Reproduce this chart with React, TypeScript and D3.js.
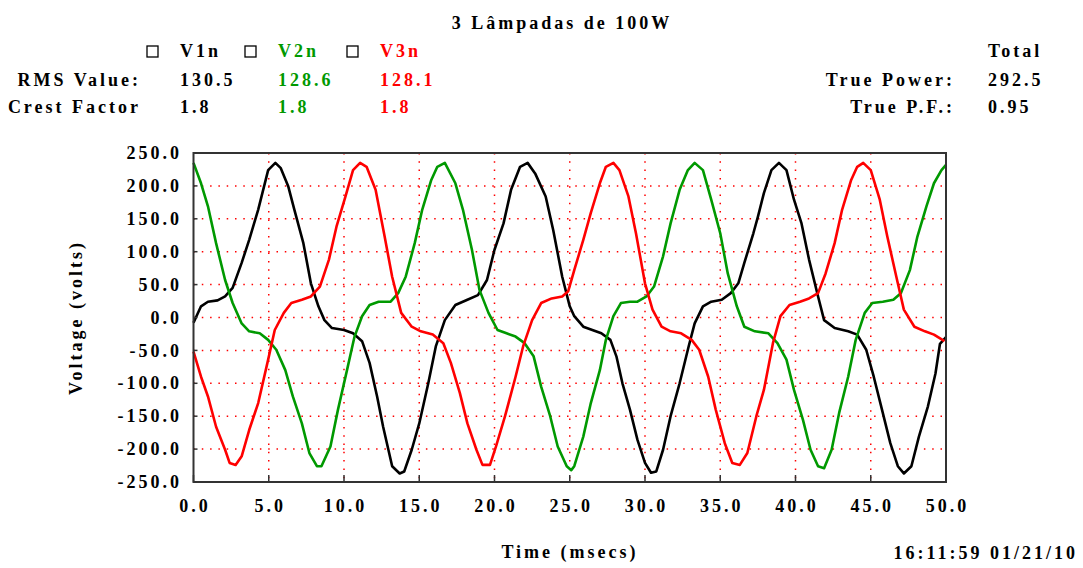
import React from 'react';
import * as d3 from 'd3';

// sampled traces, [time (ms), volts]
const v1n: [number, number][] = [
  [0, -8], [0.5, 17], [0.96, 24], [1.6, 26], [2.1, 32], [2.6, 45], [3.2, 83], [3.7, 118], [4.3, 164],
  [4.96, 224], [5.44, 235], [5.8, 227], [6.3, 199], [6.7, 164], [7.3, 113], [7.8, 52], [8.3, 17],
  [8.7, -4], [9.2, -16], [10.0, -19], [10.6, -24], [11.2, -36], [11.7, -69], [12.2, -120], [12.6, -166],
  [13.2, -226], [13.7, -237], [14.0, -234], [14.5, -201], [15.0, -161], [15.6, -100], [16.1, -44],
  [16.7, -4], [17.4, 19], [18.2, 27], [18.9, 34], [19.5, 57], [20.0, 103], [20.6, 143], [21.1, 194],
  [21.7, 229], [22.2, 235], [22.7, 219], [23.4, 184], [23.9, 133], [24.5, 62], [25.0, 17], [25.3, 2],
  [25.9, -14], [26.5, -19], [27.1, -24], [27.7, -34], [28.1, -59], [28.5, -100], [29.0, -140],
  [29.5, -186], [30.0, -221], [30.4, -236], [30.75, -234], [31.2, -201], [31.7, -150], [32.3, -100],
  [32.9, -44], [33.3, -9], [33.85, 17], [34.4, 24], [35.1, 27], [35.7, 37], [36.2, 52], [36.6, 83],
  [37.2, 128], [37.5, 153], [37.9, 189], [38.4, 224], [38.9, 235], [39.4, 224], [39.9, 179], [40.4, 143],
  [40.9, 88], [41.5, 32], [41.9, -4], [42.6, -16], [43.5, -21], [44.1, -26], [44.7, -49], [45.2, -90],
  [45.8, -145], [46.3, -191], [46.8, -226], [47.2, -237], [47.7, -226], [48.2, -181], [48.8, -135],
  [49.3, -85], [49.6, -40], [50, -30],
];

const v2n: [number, number][] = [
  [0, 235], [0.5, 204], [0.96, 169], [1.5, 113], [2.1, 57], [2.6, 22], [3.2, -9], [3.7, -21], [4.4, -24],
  [4.96, -34], [5.5, -49], [6.1, -80], [6.6, -120], [7.2, -161], [7.7, -206], [8.2, -226], [8.5, -226],
  [9.1, -196], [9.6, -140], [10.2, -80], [10.7, -29], [11.2, 2], [11.7, 19], [12.3, 24], [13.1, 24],
  [13.6, 37], [14.1, 62], [14.7, 113], [15.2, 164], [15.8, 209], [16.2, 229], [16.7, 235], [17.4, 204],
  [17.9, 164], [18.5, 103], [19.0, 42], [19.6, 7], [20.2, -19], [20.8, -24], [21.4, -29], [22.0, -39],
  [22.6, -59], [23.1, -105], [23.7, -150], [24.2, -196], [24.8, -226], [25.1, -232], [25.3, -226],
  [25.9, -181], [26.4, -130], [27.0, -80], [27.4, -34], [27.9, 2], [28.4, 22], [29.0, 24], [29.5, 24],
  [30.1, 32], [30.6, 47], [31.2, 93], [31.7, 143], [32.3, 194], [32.85, 224], [33.3, 235], [33.85, 224],
  [34.4, 179], [35.0, 128], [35.5, 67], [36.1, 17], [36.6, -14], [37.3, -21], [38.2, -24], [38.8, -39],
  [39.4, -64], [39.9, -110], [40.5, -156], [41.0, -201], [41.5, -226], [41.9, -229], [42.4, -201],
  [42.9, -145], [43.5, -90], [44.0, -34], [44.6, 7], [45.1, 22], [45.8, 24], [46.5, 27], [47.0, 37],
  [47.6, 72], [48.1, 123], [48.7, 169], [49.2, 204], [49.7, 224], [50, 232],
];

const v3n: [number, number][] = [
  [0, -52], [0.5, -90], [0.96, -120], [1.5, -166], [2.1, -201], [2.4, -221], [2.8, -224], [3.2, -211],
  [3.7, -171], [4.3, -130], [4.96, -64], [5.4, -19], [6.0, 7], [6.5, 22], [7.2, 27], [7.8, 32], [8.4, 47],
  [9.0, 88], [9.5, 138], [10.1, 184], [10.6, 224], [11.07, 235], [11.5, 229], [12.1, 194], [12.7, 123],
  [13.2, 62], [13.8, 7], [14.5, -14], [15.1, -21], [15.9, -26], [16.6, -39], [17.1, -69], [17.7, -115],
  [18.2, -161], [18.8, -201], [19.2, -224], [19.7, -224], [20.1, -196], [20.7, -150], [21.4, -90],
  [21.9, -44], [22.5, -4], [23.1, 22], [23.8, 29], [24.5, 32], [24.9, 40], [25.3, 72], [25.9, 118],
  [26.4, 159], [27.0, 204], [27.4, 229], [27.9, 235], [28.3, 224], [28.9, 184], [29.4, 128], [30.0, 52],
  [30.5, 12], [31.1, -14], [31.7, -21], [32.4, -24], [33.1, -34], [33.6, -49], [34.2, -90], [34.7, -140],
  [35.3, -191], [35.8, -221], [36.3, -224], [36.8, -206], [37.4, -150], [37.9, -110], [38.5, -39],
  [39.0, 2], [39.6, 19], [40.3, 24], [40.9, 29], [41.5, 37], [42.0, 67], [42.6, 113], [43.1, 164],
  [43.7, 209], [44.1, 229], [44.5, 235], [45.0, 224], [45.6, 179], [46.1, 123], [46.7, 62], [47.2, 12],
  [47.9, -14], [48.6, -21], [49.2, -26], [49.9, -36],
];

const seriesNames = ['V1n', 'V2n', 'V3n'];
const seriesColors = ['#000000', '#009900', '#ff0000'];
const rmsValues = ['130.5', '128.6', '128.1'];
const crestFactors = ['1.8', '1.8', '1.8'];
const xTicks = [0, 5, 10, 15, 20, 25, 30, 35, 40, 45, 50];
const yTicks = [-250, -200, -150, -100, -50, 0, 50, 100, 150, 200, 250];

const W = 1083;
const H = 568;
const plot = { left: 193.5, right: 946, top: 153, bottom: 482 };

const font = {
  fontFamily: '"Liberation Serif", serif',
  fontWeight: 'bold' as const,
  fontSize: 18,
  letterSpacing: 3,
};

export default function App() {
  const x = d3.scaleLinear().domain([0, 50]).range([plot.left, plot.right]);
  const y = d3.scaleLinear().domain([-250, 250]).range([plot.bottom, plot.top]);
  const line = d3.line<[number, number]>().x(d => x(d[0])).y(d => y(d[1]));

  const colX = [180, 278, 380];

  return (
    <svg width={W} height={H} style={{ position: 'absolute', left: 0, top: 0, background: '#fff' }}>
      <g style={font} fill="#000">
        <text x={562} y={29} textAnchor="middle">3 Lâmpadas de 100W</text>

        {seriesNames.map((n, i) => (
          <g key={n}>
            <rect x={colX[i] - 33} y={46} width={11} height={11} fill="#fff" stroke="#000" strokeWidth={1.3} />
            <text x={colX[i]} y={57} fill={seriesColors[i]}>{n}</text>
            <text x={colX[i]} y={86} fill={seriesColors[i]}>{rmsValues[i]}</text>
            <text x={colX[i]} y={113} fill={seriesColors[i]}>{crestFactors[i]}</text>
          </g>
        ))}
        <text x={141} y={86} textAnchor="end">RMS Value:</text>
        <text x={141} y={113} textAnchor="end">Crest Factor</text>

        <text x={988} y={57}>Total</text>
        <text x={955} y={86} textAnchor="end">True Power:</text>
        <text x={988} y={86}>292.5</text>
        <text x={955} y={113} textAnchor="end">True P.F.:</text>
        <text x={988} y={113}>0.95</text>
      </g>

      {/* grid */}
      <g stroke="#ff0000" strokeWidth={1.5} strokeDasharray="1.5 6.8">
        {xTicks.slice(1, -1).map(t => (
          <line key={'gx' + t} x1={x(t)} x2={x(t)} y1={plot.top} y2={plot.bottom} />
        ))}
        {yTicks.slice(1, -1).map(v => (
          <line key={'gy' + v} x1={plot.left} x2={plot.right} y1={y(v)} y2={y(v)} />
        ))}
      </g>

      {/* traces */}
      {[v1n, v2n, v3n].map((s, i) => (
        <path key={i} d={line(s) || ''} fill="none" stroke={seriesColors[i]} strokeWidth={2.6} strokeLinejoin="round" />
      ))}

      {/* frame + ticks */}
      <rect x={plot.left} y={plot.top} width={plot.right - plot.left} height={plot.bottom - plot.top}
        fill="none" stroke="#333" strokeWidth={2} />
      <g stroke="#333" strokeWidth={1.5}>
        {yTicks.map(v => <line key={'ty' + v} x1={plot.left} x2={plot.left + 4} y1={y(v)} y2={y(v)} />)}
        {xTicks.map(t => <line key={'tx' + t} x1={x(t)} x2={x(t)} y1={plot.bottom} y2={plot.bottom - 7} />)}
      </g>

      <g style={font} fill="#000">
        {yTicks.map(v => (
          <text key={'ly' + v} x={182} y={y(v)} dy="0.34em" textAnchor="end">{v.toFixed(1)}</text>
        ))}
        {xTicks.map(t => (
          <text key={'lx' + t} x={x(t) + 1.5} y={512} textAnchor="middle">{t.toFixed(1)}</text>
        ))}
        <text transform={`translate(82,${(plot.top + plot.bottom) / 2}) rotate(-90)`} textAnchor="middle">Voltage (volts)</text>
        <text x={570} y={558} textAnchor="middle">Time (msecs)</text>
        <text x={1078} y={559} textAnchor="end">16:11:59 01/21/10</text>
      </g>
    </svg>
  );
}
